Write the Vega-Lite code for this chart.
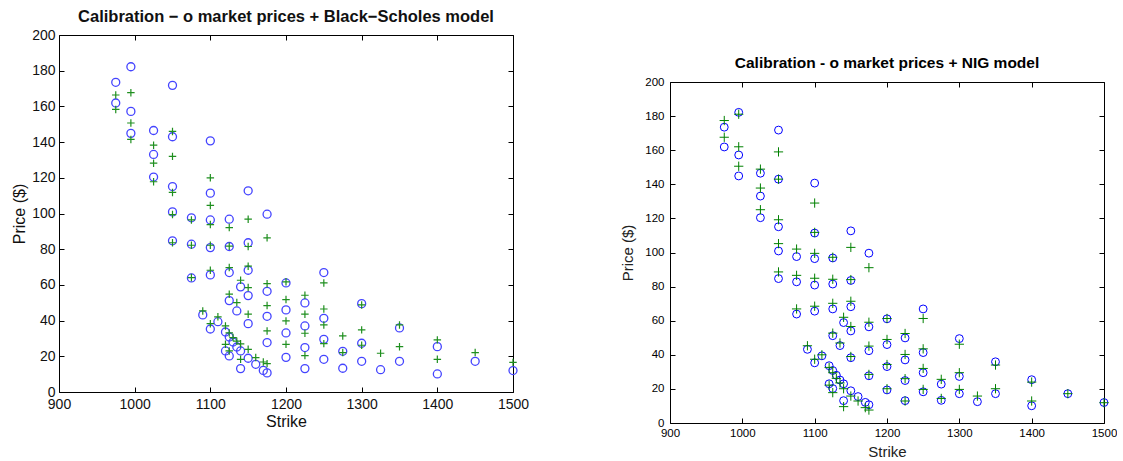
{
  "$schema": "https://vega.github.io/schema/vega-lite/v6.json",
  "padding": {"left": 11, "top": 8, "right": 0, "bottom": 0},
  "background": "white",
  "config": {
    "view": {"stroke": null},
    "font": "Liberation Sans",
    "axis": {"grid": false, "labelFlush": false, "labelOverlap": false, "format": "d", "domainColor": "black", "tickColor": "black", "labelColor": "#111", "titleColor": "#111", "titleFontWeight": "normal", "labelFont": "Liberation Sans", "titleFont": "Liberation Sans"}
  },
  "data": {
    "values": [
      {"strike": 975, "market": 173.5, "bs": 166.4, "nig": 177.4},
      {"strike": 975, "market": 161.9, "bs": 158.3, "nig": 167.6},
      {"strike": 995, "market": 182.2, "bs": 167.7, "nig": 181.1},
      {"strike": 995, "market": 157.2, "bs": 150.7, "nig": 162.0},
      {"strike": 995, "market": 144.9, "bs": 141.5, "nig": 150.6},
      {"strike": 1025, "market": 146.5, "bs": 138.3, "nig": 148.9},
      {"strike": 1025, "market": 133.1, "bs": 128.2, "nig": 137.8},
      {"strike": 1025, "market": 120.4, "bs": 117.8, "nig": 125.1},
      {"strike": 1050, "market": 171.8, "bs": 146.0, "nig": 159.0},
      {"strike": 1050, "market": 143.0, "bs": 132.0, "nig": 143.0},
      {"strike": 1050, "market": 115.1, "bs": 111.8, "nig": 119.2},
      {"strike": 1050, "market": 100.9, "bs": 99.4, "nig": 105.2},
      {"strike": 1050, "market": 84.7, "bs": 83.6, "nig": 88.6},
      {"strike": 1075, "market": 97.6, "bs": 96.4, "nig": 102.0},
      {"strike": 1075, "market": 82.8, "bs": 82.2, "nig": 86.6},
      {"strike": 1075, "market": 63.9, "bs": 64.1, "nig": 66.9},
      {"strike": 1090, "market": 43.2, "bs": 45.4, "nig": 45.3},
      {"strike": 1100, "market": 140.7, "bs": 120.0, "nig": 129.0},
      {"strike": 1100, "market": 111.4, "bs": 104.5, "nig": 111.8},
      {"strike": 1100, "market": 96.4, "bs": 93.8, "nig": 99.5},
      {"strike": 1100, "market": 80.9, "bs": 82.2, "nig": 84.9},
      {"strike": 1100, "market": 65.6, "bs": 68.2, "nig": 68.5},
      {"strike": 1100, "market": 35.3, "bs": 38.3, "nig": 37.4},
      {"strike": 1110, "market": 39.4, "bs": 42.1, "nig": 40.0},
      {"strike": 1120, "market": 33.6, "bs": 37.0, "nig": 32.6},
      {"strike": 1120, "market": 23.0, "bs": 26.7, "nig": 22.2},
      {"strike": 1125, "market": 96.8, "bs": 92.1, "nig": 97.2},
      {"strike": 1125, "market": 81.5, "bs": 81.7, "nig": 84.3},
      {"strike": 1125, "market": 66.9, "bs": 69.7, "nig": 70.2},
      {"strike": 1125, "market": 51.2, "bs": 54.8, "nig": 52.7},
      {"strike": 1125, "market": 30.8, "bs": 33.1, "nig": 29.5},
      {"strike": 1125, "market": 20.2, "bs": 23.0, "nig": 17.8},
      {"strike": 1130, "market": 28.0, "bs": 30.5, "nig": 26.2},
      {"strike": 1135, "market": 45.4, "bs": 50.1, "nig": 46.9},
      {"strike": 1135, "market": 25.2, "bs": 28.5, "nig": 23.5},
      {"strike": 1140, "market": 58.9, "bs": 62.6, "nig": 62.0},
      {"strike": 1140, "market": 23.0, "bs": 27.0, "nig": 20.1},
      {"strike": 1140, "market": 13.1, "bs": 18.3, "nig": 9.6},
      {"strike": 1150, "market": 112.7, "bs": 96.8, "nig": 103.0},
      {"strike": 1150, "market": 83.6, "bs": 81.5, "nig": 84.1},
      {"strike": 1150, "market": 68.2, "bs": 70.5, "nig": 71.4},
      {"strike": 1150, "market": 54.0, "bs": 58.5, "nig": 56.6},
      {"strike": 1150, "market": 38.3, "bs": 43.6, "nig": 39.0},
      {"strike": 1150, "market": 18.9, "bs": 23.9, "nig": 15.8},
      {"strike": 1160, "market": 15.5, "bs": 19.3, "nig": 12.9},
      {"strike": 1170, "market": 12.1, "bs": 16.8, "nig": 9.0},
      {"strike": 1175, "market": 99.6, "bs": 86.4, "nig": 91.1},
      {"strike": 1175, "market": 56.4, "bs": 60.7, "nig": 59.1},
      {"strike": 1175, "market": 42.4, "bs": 48.4, "nig": 45.1},
      {"strike": 1175, "market": 27.7, "bs": 34.2, "nig": 28.5},
      {"strike": 1175, "market": 10.7, "bs": 15.9, "nig": 7.6},
      {"strike": 1200, "market": 61.1, "bs": 61.7, "nig": 61.3},
      {"strike": 1200, "market": 46.0, "bs": 51.8, "nig": 49.0},
      {"strike": 1200, "market": 33.1, "bs": 39.8, "nig": 34.3},
      {"strike": 1200, "market": 19.4, "bs": 26.7, "nig": 20.1},
      {"strike": 1225, "market": 49.9, "bs": 54.2, "nig": 52.5},
      {"strike": 1225, "market": 37.0, "bs": 43.6, "nig": 40.2},
      {"strike": 1225, "market": 24.9, "bs": 32.9, "nig": 26.0},
      {"strike": 1225, "market": 13.1, "bs": 20.4, "nig": 12.9},
      {"strike": 1250, "market": 66.9, "bs": 61.1, "nig": 61.3},
      {"strike": 1250, "market": 41.3, "bs": 46.5, "nig": 43.5},
      {"strike": 1250, "market": 29.5, "bs": 37.6, "nig": 32.0},
      {"strike": 1250, "market": 18.3, "bs": 27.1, "nig": 19.7},
      {"strike": 1275, "market": 22.8, "bs": 31.4, "nig": 25.6},
      {"strike": 1275, "market": 13.3, "bs": 22.1, "nig": 14.4},
      {"strike": 1300, "market": 49.5, "bs": 48.8, "nig": 46.2},
      {"strike": 1300, "market": 27.3, "bs": 34.8, "nig": 29.5},
      {"strike": 1300, "market": 17.2, "bs": 26.2, "nig": 19.7},
      {"strike": 1325, "market": 12.5, "bs": 21.7, "nig": 15.8},
      {"strike": 1350, "market": 35.9, "bs": 37.6, "nig": 34.0},
      {"strike": 1350, "market": 17.2, "bs": 25.4, "nig": 20.1},
      {"strike": 1400, "market": 25.4, "bs": 29.2, "nig": 24.0},
      {"strike": 1400, "market": 10.1, "bs": 18.3, "nig": 12.9},
      {"strike": 1450, "market": 17.2, "bs": 22.1, "nig": 17.2},
      {"strike": 1500, "market": 12.0, "bs": 16.6, "nig": 11.9}
    ]
  },
  "spacing": 91,
  "hconcat": [
    {
      "width": 454,
      "height": 357,
      "title": {"text": "Calibration − o market prices + Black−Scholes model", "fontSize": 16.5, "fontWeight": "bold", "font": "Liberation Sans", "color": "#111", "offset": 3},
      "layer": [
        {
          "mark": {"type": "point", "shape": "circle", "size": 64, "filled": false, "strokeWidth": 1.3, "color": "#4444ff", "opacity": 1},
          "encoding": {
            "x": {"field": "strike", "type": "quantitative", "scale": {"domain": [900, 1500], "nice": false},
                  "axis": {"orient": "bottom", "values": [900, 1000, 1100, 1200, 1300, 1400, 1500], "tickSize": -5, "labelFontSize": 14, "labelPadding": 10, "title": "Strike", "titleFontSize": 16, "titlePadding": 2}},
            "y": {"field": "market", "type": "quantitative", "scale": {"domain": [0, 200], "nice": false},
                  "axis": {"orient": "left", "values": [0, 20, 40, 60, 80, 100, 120, 140, 160, 180, 200], "tickSize": -5, "labelFontSize": 14, "labelPadding": 9, "title": "Price ($)", "titleFontSize": 16, "titlePadding": 4}}
          }
        },
        {
          "mark": {"type": "point", "shape": "M-1,0H1M0,-1V1", "size": 56, "filled": false, "strokeWidth": 1.2, "color": "#1f8f1f", "opacity": 1},
          "encoding": {
            "x": {"field": "strike", "type": "quantitative", "scale": {"domain": [900, 1500], "nice": false},
                  "axis": {"orient": "top", "values": [900, 1000, 1100, 1200, 1300, 1400, 1500], "tickSize": -5, "labels": false, "title": null}},
            "y": {"field": "bs", "type": "quantitative", "scale": {"domain": [0, 200], "nice": false},
                  "axis": {"orient": "right", "values": [0, 20, 40, 60, 80, 100, 120, 140, 160, 180, 200], "tickSize": -5, "labels": false, "title": null}}
          }
        }
      ],
      "resolve": {"axis": {"x": "independent", "y": "independent"}}
    },
    {
      "spacing": 0,
      "vconcat": [
        {
          "width": 434,
          "height": 20,
          "data": {"values": []},
          "mark": {"type": "point"},
          "encoding": {}
        },
        {
          "width": 434,
          "height": 341,
          "title": {"text": "Calibration - o market prices + NIG model", "fontSize": 15.5, "fontWeight": "bold", "font": "Liberation Sans", "color": "black", "offset": 5},
          "layer": [
            {
              "mark": {"type": "point", "shape": "circle", "size": 62, "filled": false, "strokeWidth": 1, "color": "#0000ff", "opacity": 1},
              "encoding": {
                "x": {"field": "strike", "type": "quantitative", "scale": {"domain": [900, 1500], "nice": false},
                      "axis": {"orient": "bottom", "values": [900, 1000, 1100, 1200, 1300, 1400, 1500], "tickSize": -5, "labelFontSize": 11.5, "labelPadding": 9, "labelColor": "black", "title": "Strike", "titleFontSize": 15, "titlePadding": 6, "titleColor": "#222"}},
                "y": {"field": "market", "type": "quantitative", "scale": {"domain": [0, 200], "nice": false},
                      "axis": {"orient": "left", "values": [0, 20, 40, 60, 80, 100, 120, 140, 160, 180, 200], "tickSize": -5, "labelFontSize": 11.5, "labelPadding": 11, "labelColor": "black", "title": "Price ($)", "titleFontSize": 15, "titlePadding": 9, "titleColor": "#222"}}
              }
            },
            {
              "mark": {"type": "point", "shape": "M-1,0H1M0,-1V1", "size": 86, "filled": false, "strokeWidth": 1, "color": "#008000", "opacity": 1},
              "encoding": {
                "x": {"field": "strike", "type": "quantitative", "scale": {"domain": [900, 1500], "nice": false},
                      "axis": {"orient": "top", "values": [900, 1000, 1100, 1200, 1300, 1400, 1500], "tickSize": -5, "labels": false, "title": null}},
                "y": {"field": "nig", "type": "quantitative", "scale": {"domain": [0, 200], "nice": false},
                      "axis": {"orient": "right", "values": [0, 20, 40, 60, 80, 100, 120, 140, 160, 180, 200], "tickSize": -5, "labels": false, "title": null}}
              }
            }
          ],
          "resolve": {"axis": {"x": "independent", "y": "independent"}}
        }
      ]
    }
  ]
}
